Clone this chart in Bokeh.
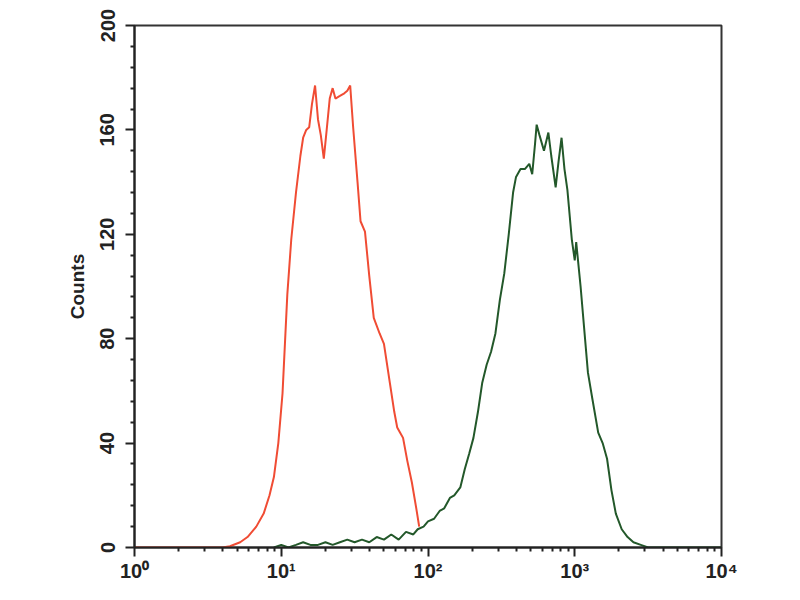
from bokeh.plotting import figure
from bokeh.models import FixedTicker, Range1d
from bokeh.embed import file_html
from bokeh.resources import INLINE

# ---- data (fluorescence intensity, counts) ----
red_x = [1.0, 2.0, 3.98, 4.47, 5.25, 5.89, 6.76, 7.59, 8.32, 8.91, 9.55, 10.2, 11.0, 11.7,
         12.6, 13.5, 14.1, 14.8, 15.5, 16.2, 17.0, 17.8, 18.6, 19.5, 20.4, 21.4, 22.4,
         23.4, 25.1, 26.9, 28.2, 29.5, 30.9, 33.1, 34.7, 37.2, 39.8, 42.7, 46.8, 50.1,
         55.0, 58.9, 61.7, 64.6, 67.6, 72.4, 77.6, 83.2, 87.1]
red_y = [0, 0, 0, 0.5, 2, 4, 8, 13, 20, 27, 40, 59, 97, 118,
         136, 150, 157, 160, 161, 170, 177, 164, 158, 149, 160, 172, 176,
         172, 173, 174, 175, 177, 161, 140, 125, 121, 104, 88, 82, 78,
         63, 52, 46, 44, 42, 33, 25, 15, 8]

green_x = [8.91, 10.0, 11.2, 12.6, 14.1, 15.8, 17.8, 20.0, 22.4, 25.1, 28.2, 31.6, 35.5,
           39.8, 44.7, 50.1, 56.2, 63.1, 70.8, 79.4, 85.1, 93.3, 100, 110, 120, 129,
           141, 151, 166, 178, 191, 204, 219, 234, 251, 269, 288, 309, 331, 355, 380,
           398, 427, 457, 490, 513, 537, 550, 575, 617, 661, 692, 741, 776, 813, 851,
           891, 955, 1000, 1023, 1096, 1175, 1230, 1318, 1445, 1549, 1660, 1778, 1905,
           2089, 2291, 2512, 2818, 3162, 10000]
green_y = [0, 1, 0, 1, 2, 1, 1, 2, 1, 2, 3, 2, 3,
           2, 4, 3, 5, 3, 6, 5, 7, 8, 10, 11, 14, 15,
           19, 20, 23, 30, 36, 42, 52, 63, 70, 75, 82, 95, 105, 120, 136,
           142, 145, 145, 147, 143, 155, 162, 158, 152, 159, 150, 138, 148, 157, 145,
           137, 118, 110, 117, 100, 80, 67, 57, 44, 40, 34, 22, 13,
           7, 4, 2, 1, 0, 0]

x_major = [1, 10, 100, 1000, 10000]
x_labels = ["10\u2070", "10\u00b9", "10\u00b2", "10\u00b3", "10\u2074"]
y_major = [0, 40, 80, 120, 160, 200]
y_minor = [v for v in range(0, 201, 8) if v % 40 != 0]
y_title = "Counts"

x_minor = [m * d for d in [1, 10, 100, 1000] for m in range(2, 10)]

p = figure(width=780, height=584, x_axis_type="log", output_backend="svg",
           toolbar_location=None, x_range=Range1d(1, 10000), y_range=Range1d(0, 200),
           min_border_left=134, min_border_right=59, min_border_top=25, min_border_bottom=36)

p.line(red_x, red_y, line_color="#f04c34", line_width=2)
p.line(green_x, green_y, line_color="#23582a", line_width=2)

p.xgrid.visible = False
p.ygrid.visible = False
p.outline_line_color = "#333333"
p.outline_line_width = 2
p.background_fill_color = "white"
p.border_fill_color = "white"

xa = p.xaxis[0]
xa.ticker = FixedTicker(ticks=x_major, minor_ticks=x_minor)
xa.major_label_overrides = {k: v for k, v in zip(x_major, x_labels)}
ya = p.yaxis[0]
ya.ticker = FixedTicker(ticks=y_major, minor_ticks=y_minor)
ya.major_label_orientation = "vertical"
ya.axis_label = y_title
ya.axis_label_text_font = "Liberation Sans"
ya.axis_label_text_font_style = "bold"
ya.axis_label_text_font_size = "19px"
ya.axis_label_text_color = "#222222"
ya.axis_label_standoff = 10

for ax in (xa, ya):
    ax.axis_line_color = "#222222"
    ax.axis_line_width = 2
    ax.major_tick_line_color = "#222222"
    ax.minor_tick_line_color = "#222222"
    ax.major_tick_line_width = 2
    ax.minor_tick_line_width = 2
    ax.major_tick_in = 0
    ax.major_tick_out = 9
    ax.minor_tick_in = 0
    ax.minor_tick_out = 4
    ax.major_label_text_font = "Liberation Sans"
    ax.major_label_text_font_style = "bold"
    ax.major_label_text_font_size = "20px"
    ax.major_label_text_color = "#222222"

xa.major_label_standoff = 3
ya.major_label_standoff = 11

open("out.html", "w").write(file_html(p, INLINE))
